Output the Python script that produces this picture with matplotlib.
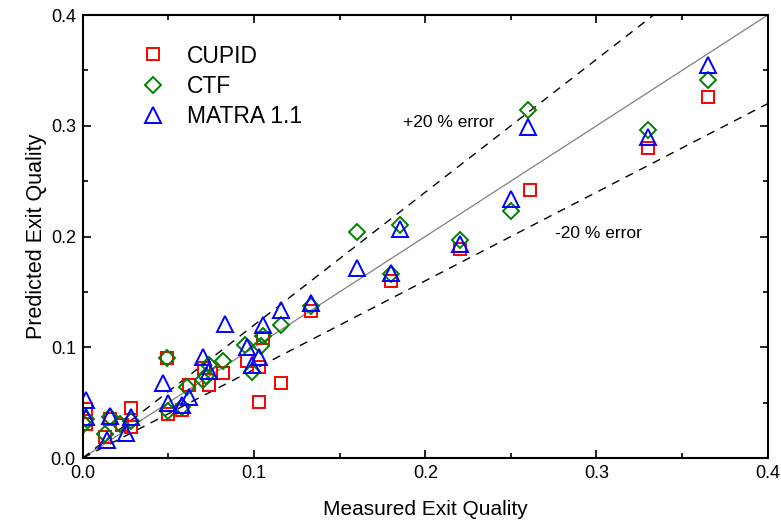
import numpy as np
import matplotlib
matplotlib.use('Agg')
import matplotlib.pyplot as plt
from matplotlib.ticker import MultipleLocator

plt.rcParams['font.family'] = ['Liberation Sans', 'DejaVu Sans']

# CUPID
cupid_x = [0.002, 0.002, 0.013, 0.016, 0.023, 0.028, 0.028, 0.049, 0.050, 0.058, 0.062, 0.071,
           0.074, 0.082, 0.096, 0.103, 0.105, 0.103, 0.116, 0.133, 0.180, 0.220, 0.261, 0.330, 0.365]
cupid_y = [0.044, 0.031, 0.019, 0.035, 0.030, 0.045, 0.028, 0.090, 0.040, 0.043, 0.066, 0.081,
           0.066, 0.077, 0.088, 0.082, 0.108, 0.051, 0.068, 0.133, 0.160, 0.189, 0.242, 0.280, 0.326]

# CTF
ctf_x = [0.002, 0.001, 0.013, 0.016, 0.022, 0.028, 0.049, 0.050, 0.058, 0.061, 0.070, 0.072,
         0.074, 0.082, 0.095, 0.099, 0.104, 0.105, 0.116, 0.133, 0.160, 0.180, 0.185, 0.220,
         0.250, 0.260, 0.330, 0.365]
ctf_y = [0.035, 0.031, 0.022, 0.037, 0.031, 0.033, 0.090, 0.042, 0.046, 0.064, 0.070, 0.074,
         0.084, 0.088, 0.102, 0.078, 0.101, 0.110, 0.120, 0.137, 0.204, 0.166, 0.210, 0.197,
         0.223, 0.314, 0.296, 0.341]

# MATRA 1.1
matra_x = [0.002, 0.002, 0.014, 0.016, 0.025, 0.028, 0.047, 0.050, 0.058, 0.062, 0.070, 0.074,
           0.083, 0.096, 0.099, 0.103, 0.105, 0.116, 0.133, 0.160, 0.180, 0.185, 0.220, 0.250,
           0.260, 0.330, 0.365]
matra_y = [0.052, 0.037, 0.016, 0.038, 0.023, 0.037, 0.068, 0.050, 0.048, 0.055, 0.091, 0.079,
           0.121, 0.100, 0.084, 0.091, 0.120, 0.134, 0.140, 0.172, 0.167, 0.207, 0.193, 0.234,
           0.299, 0.290, 0.355]

line_x = [0.0, 0.4]

fig = plt.figure(figsize=(7.81, 5.22), dpi=100)
ax = fig.add_axes([0.106, 0.1226, 0.877, 0.8486])

lx = np.array(line_x)
ax.plot(lx, lx, color='gray', lw=0.9)
ax.plot(lx, 1.2 * lx, color='black', lw=1.0, ls=(0, (6, 5)))
ax.plot(lx, 0.8 * lx, color='black', lw=1.0, ls=(0, (6, 5)))

ax.plot(cupid_x, cupid_y, 's', ms=8, mfc='none', mec='red', mew=1.4, ls='none', label='CUPID')
ax.plot(ctf_x, ctf_y, 'D', ms=8.5, mfc='none', mec='green', mew=1.4, ls='none', label='CTF')
ax.plot(matra_x, matra_y, '^', ms=11.5, mfc='none', mec='blue', mew=1.4, ls='none', label='MATRA 1.1')

ax.text(0.187, 0.303, '+20 % error', fontsize=12.5, va='center')
ax.text(0.276, 0.203, '-20 % error', fontsize=12.5, va='center')

ax.set_xlim(0, 0.4)
ax.set_ylim(0, 0.4)
ax.xaxis.set_major_locator(MultipleLocator(0.1))
ax.yaxis.set_major_locator(MultipleLocator(0.1))
ax.xaxis.set_minor_locator(MultipleLocator(0.05))
ax.yaxis.set_minor_locator(MultipleLocator(0.05))
ax.xaxis.set_major_formatter(matplotlib.ticker.FormatStrFormatter('%.1f'))
ax.yaxis.set_major_formatter(matplotlib.ticker.FormatStrFormatter('%.1f'))
ax.tick_params(which='both', direction='in', top=True, right=True, labelsize=13, width=1.2)
ax.tick_params(which='major', length=6, pad=5)
ax.tick_params(which='minor', length=3.5)
for s in ax.spines.values():
    s.set_linewidth(1.5)

ax.set_xlabel('Measured Exit Quality', fontsize=15, labelpad=13)
ax.set_ylabel('Predicted Exit Quality', fontsize=15.5, labelpad=3)

ax.legend(loc='upper left', bbox_to_anchor=(0.052, 0.98), frameon=False, fontsize=16.5,
          handletextpad=0.9, labelspacing=0.32, handlelength=1.2)

fig.savefig('out.png', dpi=100)
